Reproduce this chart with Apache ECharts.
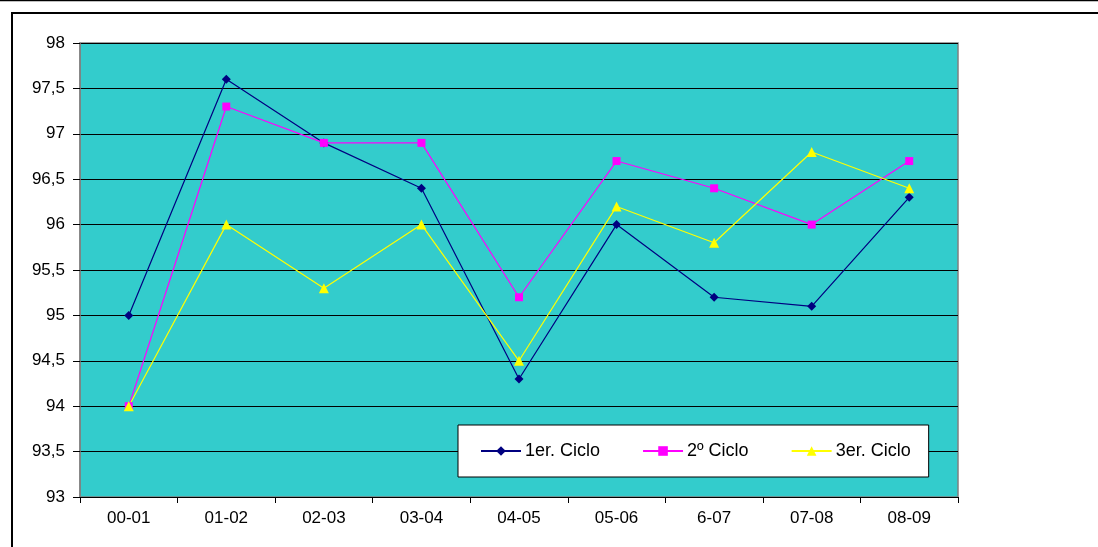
<!DOCTYPE html>
<html><head><meta charset="utf-8">
<script src="https://cdn.jsdelivr.net/npm/echarts@6/dist/echarts.min.js"></script>
<style>html,body{margin:0;padding:0;background:#fff}#c{width:1098px;height:547px}</style>
</head><body><div id="c"></div>
<script>
const categories = ['00-01','01-02','02-03','03-04','04-05','05-06','6-07','07-08','08-09'];
const ciclo1 = [95.0, 97.6, 96.9, 96.4, 94.3, 96.0, 95.2, 95.1, 96.3];
const ciclo2 = [94.0, 97.3, 96.9, 96.9, 95.2, 96.7, 96.4, 96.0, 96.7];
const ciclo3 = [94.0, 96.0, 95.3, 96.0, 94.5, 96.2, 95.8, 96.8, 96.4];
const seriesNames = ['1er. Ciclo', '2º Ciclo', '3er. Ciclo'];

const chart = echarts.init(document.getElementById('c'), null, {renderer:'canvas'});
const font = 'Liberation Sans, Arial, sans-serif';
const fs = 17;
function mk(name, data, color, symbol, size){
  return {name, type:'line', data, symbol, symbolSize:size, showSymbol:true,
    lineStyle:{color, width:1.2}, itemStyle:{color, borderWidth:0}, z:5, animation:false};
}
chart.setOption({
  animation:false,
  textStyle:{fontFamily:font},
  graphic:[
    {type:'line', shape:{x1:0,y1:0.5,x2:1098,y2:0.5}, style:{stroke:'#000', lineWidth:1.5}, z:100},
    {type:'rect', shape:{x:12,y:13,width:1200,height:700}, style:{fill:null, stroke:'#000', lineWidth:2}, z:100}
  ],
  grid:{left:80, top:43, width:878, height:454, show:true, backgroundColor:'#33CCCC', borderColor:'#808080', borderWidth:1.5},
  legend:{
    left:458, top:425, orient:'horizontal',
    backgroundColor:'#fff', borderColor:'#000', borderWidth:1,
    padding:[17,18,17,22], itemGap:42, itemWidth:40, itemHeight:12,
    textStyle:{fontFamily:font, fontSize:18, color:'#000', padding:[0,0,0,-1]},
    data:seriesNames
  },
  xAxis:{
    type:'category', data:categories, boundaryGap:true,
    axisLine:{lineStyle:{color:'#000', width:1}},
    axisTick:{show:true, alignWithLabel:false, length:6, lineStyle:{color:'#000'}},
    axisLabel:{fontFamily:font, fontSize:fs, color:'#000', margin:13}
  },
  yAxis:{
    type:'value', min:93, max:98, interval:0.5,
    axisLine:{show:true, lineStyle:{color:'#808080', width:1.5}},
    axisTick:{show:true, length:7, lineStyle:{color:'#000'}},
    axisLabel:{fontFamily:font, fontSize:fs, color:'#000', margin:15,
      formatter:v => String(v).replace('.', ',')},
    splitLine:{show:true, lineStyle:{color:'#000', width:1}}
  },
  series:[
    mk(seriesNames[0], ciclo1, '#000080', 'diamond', 9),
    mk(seriesNames[1], ciclo2, '#FF00FF', 'rect', 8),
    mk(seriesNames[2], ciclo3, '#FFFF00', 'triangle', 10)
  ]
});
</script></body></html>
